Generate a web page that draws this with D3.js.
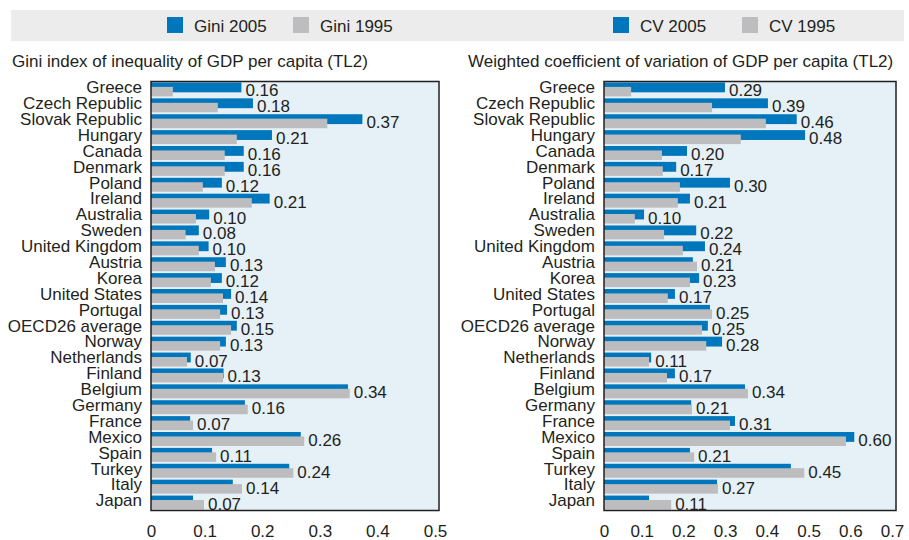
<!DOCTYPE html>
<html><head><meta charset="utf-8">
<script src="https://cdn.jsdelivr.net/npm/d3@7"></script>
<style>
html,body{margin:0;padding:0;background:#fff;}
svg text{font-family:"Liberation Sans",Arial,sans-serif;fill:#231f20;}
</style></head>
<body><svg id="chart" width="909" height="540"></svg>
<script>
const categories = ["Greece","Czech Republic","Slovak Republic","Hungary","Canada","Denmark","Poland","Ireland","Australia","Sweden","United Kingdom","Austria","Korea","United States","Portugal","OECD26 average","Norway","Netherlands","Finland","Belgium","Germany","France","Mexico","Spain","Turkey","Italy","Japan"];
const gini2005 = [0.157,0.177,0.367,0.21,0.161,0.161,0.123,0.206,0.101,0.083,0.10,0.13,0.123,0.139,0.132,0.149,0.13,0.069,0.126,0.342,0.163,0.068,0.26,0.106,0.24,0.142,0.073];
const gini1995 = [0.038,0.116,0.306,0.149,0.128,0.128,0.09,0.175,0.078,0.06,0.083,0.111,0.104,0.125,0.12,0.139,0.12,0.0625,0.125,0.345,0.168,0.073,0.266,0.113,0.247,0.158,0.092];
const cv2005 = [0.29,0.393,0.462,0.482,0.199,0.173,0.302,0.206,0.096,0.221,0.242,0.213,0.228,0.17,0.254,0.249,0.283,0.113,0.17,0.338,0.209,0.314,0.60,0.206,0.448,0.271,0.108];
const cv1995 = [0.065,0.259,0.388,0.328,0.139,0.141,0.182,0.177,0.074,0.144,0.189,0.223,0.206,0.153,0.259,0.235,0.245,0.108,0.151,0.345,0.211,0.302,0.58,0.216,0.48,0.273,0.161];
const giniTicks = [0,0.1,0.2,0.3,0.4,0.5];
const cvTicks = [0,0.1,0.2,0.3,0.4,0.5,0.6,0.7];
const legendLeft = ["Gini 2005","Gini 1995"];
const legendRight = ["CV 2005","CV 1995"];
const titleLeft = "Gini index of inequality of GDP per capita (TL2)";
const titleRight = "Weighted coefficient of variation of GDP per capita (TL2)";

const BLUE = "#0077bc", GRAY = "#bdbdbf", FS = 17;
const svg = d3.select("#chart");

// legend band
svg.append("rect").attr("x",11).attr("y",10).attr("width",893).attr("height",31).attr("fill","#ebeceb");

function legend(x0, labels, gap){
  const g = svg.append("g");
  const pos = [[x0, x0+27],[x0+gap, x0+gap+27]];
  [BLUE, GRAY].forEach((c,i)=>{
    g.append("rect").attr("x",pos[i][0]).attr("y",17).attr("width",16).attr("height",16).attr("fill",c);
    g.append("text").attr("x",pos[i][1]).attr("y",31.5).attr("font-size",FS).text(labels[i]);
  });
}
legend(167, legendLeft, 126);
legend(613, legendRight, 129);

function panel(opt){
  const {x0,x1,max,ticks,v05,v95,title,titleX} = opt;
  const top = 81.5, bottom = 510.5;
  const x = d3.scaleLinear().domain([0,max]).range([x0,x1]);
  const y = d3.scaleBand().domain(categories).range([top,bottom]).padding(0);
  const bw = y.bandwidth();
  const g = svg.append("g");
  svg.append("text").attr("x",titleX).attr("y",67).attr("font-size",FS).text(title);
  g.append("rect").attr("x",x0).attr("y",top).attr("width",x1-x0).attr("height",bottom-top).attr("fill","#e6f0f7");
  g.selectAll(".b05").data(categories).join("rect")
    .attr("x",x0).attr("y",d=>y(d)+bw*0.06).attr("height",bw*0.62)
    .attr("width",(d,i)=>x(v05[i])-x0).attr("fill",BLUE);
  g.selectAll(".b95").data(categories).join("rect")
    .attr("x",x0).attr("y",d=>y(d)+bw*0.34).attr("height",bw*0.6)
    .attr("width",(d,i)=>x(v95[i])-x0).attr("fill",GRAY);
  g.selectAll(".vl").data(categories).join("text")
    .attr("x",(d,i)=>x(Math.max(v05[i],v95[i]))+4).attr("y",d=>y(d)+bw*0.94)
    .attr("font-size",FS).text((d,i)=>d3.format(".2f")(v05[i]));
  g.selectAll(".cl").data(categories).join("text")
    .attr("x",x0-9).attr("y",d=>y(d)+bw*0.74).attr("text-anchor","end")
    .attr("font-size",FS).text(d=>d);
  g.append("rect").attr("x",x0).attr("y",top).attr("width",x1-x0).attr("height",bottom-top)
    .attr("fill","none").attr("stroke","#231f20").attr("stroke-width",1.5);
  const ax = d3.axisBottom(x).tickValues(ticks).tickSize(0).tickPadding(0)
    .tickFormat(d=>d===0?"0":d3.format(".1f")(d));
  const axg = g.append("g").attr("transform",`translate(0,${bottom})`).call(ax);
  axg.select(".domain").remove();
  axg.selectAll("text").attr("font-size",FS).attr("y",26).attr("dy",0)
    .attr("dx",d=>d===0?0:-4)
    .style("font-family",'"Liberation Sans",Arial,sans-serif').attr("fill","#231f20");
}
panel({x0:151,x1:439,max:0.5,ticks:giniTicks,v05:gini2005,v95:gini1995,title:titleLeft,titleX:12});
panel({x0:604,x1:896,max:0.7,ticks:cvTicks,v05:cv2005,v95:cv1995,title:titleRight,titleX:468});
</script></body></html>
